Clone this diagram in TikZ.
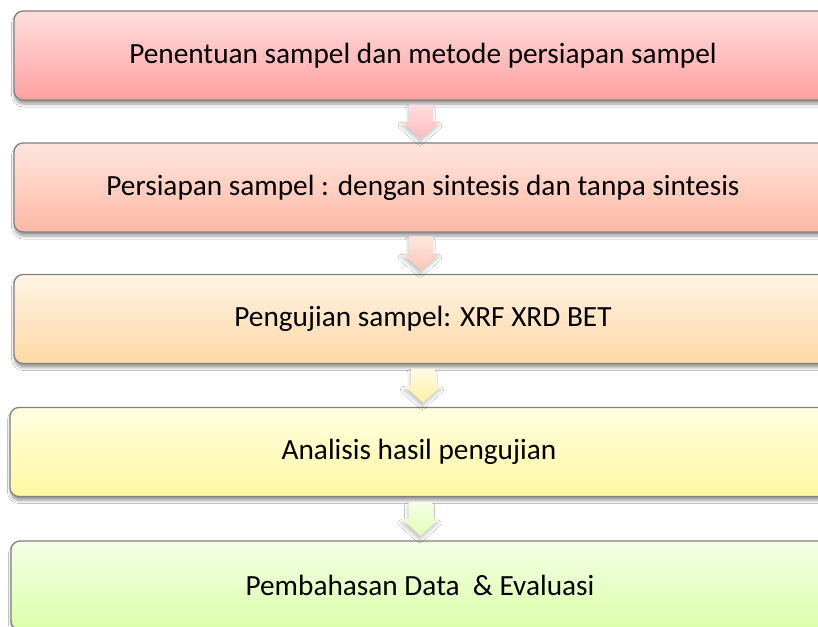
\documentclass[tikz,border=0pt]{standalone}
\usepackage{fontspec}
\setmainfont{Carlito}
\usetikzlibrary{shadows.blur,calc}

% step colours: light top, stronger bottom
\definecolor{r1}{RGB}{255,222,222}\definecolor{r2}{RGB}{255,160,160}
\definecolor{s1}{RGB}{255,230,222}\definecolor{s2}{RGB}{255,184,164}
\definecolor{o1}{RGB}{255,243,228}\definecolor{o2}{RGB}{255,216,166}
\definecolor{y1}{RGB}{255,255,226}\definecolor{y2}{RGB}{255,247,160}
\definecolor{g1}{RGB}{244,255,230}\definecolor{g2}{RGB}{218,255,168}
\definecolor{edge}{RGB}{128,128,128}

\tikzset{
  stepbox/.style={draw=edge, line width=1.3pt, rounded corners=9pt,
    minimum width=818pt, minimum height=89pt, inner sep=0pt,
    font=\fontsize{29.3}{34}\selectfont,
    blur shadow={shadow xshift=0.5pt, shadow yshift=-4pt, shadow blur radius=3pt,
      shadow blur steps=6, shadow opacity=40}},
  flowarrow/.style={blur shadow={shadow xshift=-1pt, shadow yshift=-4pt,
      shadow blur radius=3pt, shadow blur steps=6, shadow opacity=22}}
}

% block arrow pointing down; #1 = point where the head starts
\newcommand\stepdownarrow[3]{%
  \path[flowarrow, top color=#2, bottom color=#3]
    ($(#1)+(-12,-17)$) -- ($(#1)+(12,-17)$) -- ($(#1)+(12,0)$) --
    ($(#1)+(19,0)$) -- ($(#1)+(0,17)$) -- ($(#1)+(-19,0)$) --
    ($(#1)+(-12,0)$) -- cycle;}

\begin{document}
\begin{tikzpicture}[x=1pt,y=-1pt]
  \fill[white] (0,0) rectangle (818,626);
  \useasboundingbox (0,0) rectangle (818,626);
  \clip (0,0) rectangle (818,626);

  \node[stepbox, top color=r1, bottom color=r2] (b1) at (423,55.5)
    {Penentuan sampel dan metode persiapan sampel};
  \node[stepbox, top color=s1, bottom color=s2] (b2) at (423,187.5)
    {Persiapan sampel : dengan sintesis dan tanpa sintesis};
  \node[stepbox, top color=o1, bottom color=o2] (b3) at (423,319)
    {Pengujian sampel: XRF XRD BET};
  \node[stepbox, top color=y1, bottom color=y2] (b4) at (419,452)
    {Analisis hasil pengujian};
  \node[stepbox, top color=g1, bottom color=g2] (b5) at (420,585.5)
    {Pembahasan Data~~\& Evaluasi};

  \coordinate (a1) at ($(b1.south)!0.5!(b2.north)$);
  \coordinate (a2) at ($(b2.south)!0.5!(b3.north)$);
  \coordinate (a3) at ($(b3.south)!0.5!(b4.north)$);
  \coordinate (a4) at ($(b4.south)!0.5!(b5.north)$);

  \stepdownarrow{$(a1)+(-2,0)$}{r1}{r2!70!white}
  \stepdownarrow{$(a2)+(-2,0)$}{s1}{s2!80!white}
  \stepdownarrow{$(a3)+(2,0)$}{o1!40!y1}{y2!80!o2}
  \stepdownarrow{$(a4)+(1,0)$}{g1}{g2!80!white}
\end{tikzpicture}
\end{document}
